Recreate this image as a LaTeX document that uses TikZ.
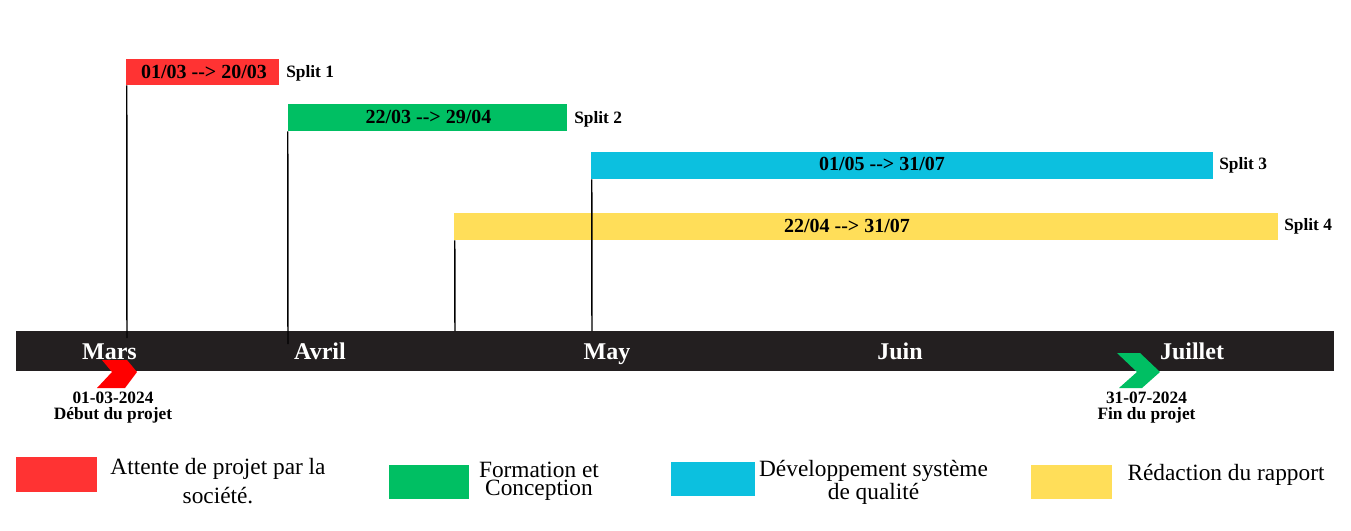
\documentclass[tikz,border=0pt]{standalone}
\usepackage{fontspec}
\setmainfont{Liberation Serif}
\definecolor{cred}{HTML}{FF3333}
\definecolor{cchev}{HTML}{FF0000}
\definecolor{cgreen}{HTML}{00BF63}
\definecolor{cblue}{HTML}{0CC0DF}
\definecolor{cyellow}{HTML}{FFDE59}
\definecolor{cbar}{HTML}{231F20}
\begin{document}
\begin{tikzpicture}[x=0.75pt,y=-0.75pt,
  bar/.style={inner sep=0, minimum height=20.25pt},
  bartext/.style={inner sep=0, anchor=base, font=\bfseries\fontsize{15}{18}\selectfont},
  split/.style={inner sep=0, anchor=base west, font=\bfseries\fontsize{13}{15}\selectfont},
  month/.style={inner sep=0, anchor=base, text=white, font=\bfseries\fontsize{18}{21}\selectfont},
  date/.style={inner sep=0, anchor=base, align=center, font=\bfseries\fontsize{13}{11.5}\selectfont},
  leg/.style={inner sep=0, minimum width=60.75pt, minimum height=25.5pt},
  legtext/.style={inner sep=0, anchor=base, align=center},
  tick/.style={line width=1.1pt, black}]
\path[use as bounding box, fill=white] (0,0) rectangle (1351,531);

% timeline
\node[fill=cbar, minimum width=988.5pt, minimum height=30pt, inner sep=0] (tl) at (675,351) {};

% bars
\node[bar, fill=cred, minimum width=114.75pt, minimum height=19.5pt] (r1) at (202.5,72) {};
\node[bar, fill=cgreen, minimum width=209.25pt] (r2) at (427.5,117.5) {};
\node[bar, fill=cblue, minimum width=466.5pt] (r3) at (902,165.5) {};
\node[bar, fill=cyellow, minimum width=618pt] (r4) at (866,226.5) {};

\node[bartext] (t1) at (204,78.5) {01/03 -{}-> 20/03};
\node[bartext] (t2) at (428.5,124) {22/03 -{}-> 29/04};
\node[bartext] (t3) at (882,171) {01/05 -{}-> 31/07};
\node[bartext] (t4) at (847,232.5) {22/04 -{}-> 31/07};

\node[split] (s1) at (286,78) {Split 1};
\node[split] (s2) at (574,123.5) {Split 2};
\node[split] (s3) at (1219,169.5) {Split 3};
\node[split] (s4) at (1284,230.5) {Split 4};

% ticks
\coordinate (l1) at (127,338);
\coordinate (l2) at (288,344);
\coordinate (l3) at (455,331);
\coordinate (l4) at (592,331);
\draw[tick] ([xshift=0.75pt]r1.south west) -- (l1);
\draw[tick] (r2.south west) -- (l2);
\draw[tick] ([xshift=0.75pt]r4.south west) -- (l3);
\draw[tick] ([xshift=0.75pt]r3.south west) -- (l4);

% chevrons
\fill[cchev] (102,360) -- (127,360) -- (137,372) -- (125,388) -- (97,388) -- (112,372) -- cycle;
\fill[cgreen] (1117,353) -- (1140,353) -- (1160,372) -- (1142,388) -- (1119,388) -- (1137,372) -- cycle;

% months
\node[month] (m1) at (109.5,359) {Mars};
\node[month] (m2) at (320,359) {Avril};
\node[month] (m3) at (607,359) {May};
\node[month] (m4) at (900,359) {Juin};
\node[month] (m5) at (1192,359) {Juillet};

% dates (base = last line)
\node[date] (d1) at (113,419.3) {01-03-2024\\Début du projet};
\node[date] (d2) at (1146.5,419.3) {31-07-2024\\Fin du projet};

% legend
\node[leg, fill=cred, minimum height=26.25pt] (k1) at (56.5,474.5) {};
\node[leg, fill=cgreen, minimum width=60pt] (k2) at (429,482) {};
\node[leg, fill=cblue, minimum width=63pt] (k3) at (713,479) {};
\node[leg, fill=cyellow] (k4) at (1071.5,482) {};

\node[legtext, font=\fontsize{17.5}{21.75}\selectfont] (e1) at (218,503) {Attente de projet par la\\société.};
\node[legtext, font=\fontsize{17.5}{10.7}\selectfont] (e2) at (539,495) {Formation et\\Conception};
\node[legtext, font=\fontsize{17.5}{17}\selectfont] (e3) at (873.5,499.3) {Développement système\\de qualité};
\node[legtext, font=\fontsize{17.5}{21}\selectfont] (e4) at (1226,480) {Rédaction du rapport};
\end{tikzpicture}
\end{document}
